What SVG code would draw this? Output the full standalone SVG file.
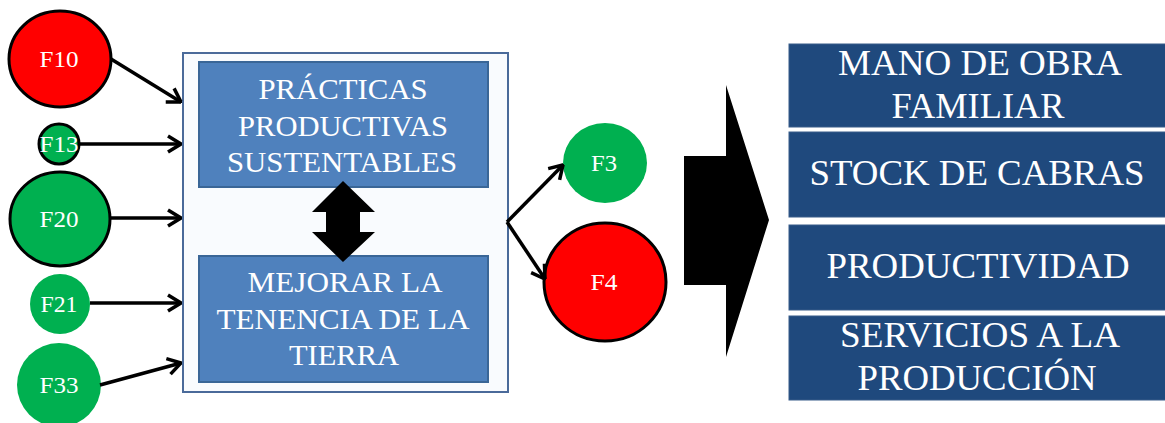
<svg xmlns="http://www.w3.org/2000/svg" width="1165" height="423" viewBox="0 0 1165 423">
<style>
.lbl{font-family:"Liberation Serif","Times New Roman",serif;fill:#fff;text-anchor:middle}
.sm{font-size:23px}
.mid{font-size:30px}
.big{font-size:35px}
.red{fill:#FF0000;stroke:#000;stroke-width:3}
.grn{fill:#00B050}
.grnS{fill:#00B050;stroke:#000;stroke-width:3}
.conn{stroke:#000;stroke-width:3.5;fill:none;marker-end:url(#ah)}
.inner{fill:#4F81BD;stroke:#3A6697;stroke-width:2}
.out{fill:#1F497D;stroke:#385D8A;stroke-width:1}
</style>
<defs>
<marker id="ah" viewBox="0 0 16 20" refX="15" refY="10" markerWidth="16" markerHeight="20" markerUnits="userSpaceOnUse" orient="auto">
<path d="M2,2 L15,10 L2,18" fill="none" stroke="#000" stroke-width="3.5"/>
</marker>
</defs>
<rect width="1165" height="423" fill="#fff"/>

<g id="main-box">
<rect x="183" y="53" width="325" height="339" fill="#F9FBFE" stroke="#4A6A9A" stroke-width="2"/>
</g>
<g id="practicas">
<rect class="inner" x="199" y="62" width="289" height="125"/>
<text class="lbl mid" x="343" y="99" textLength="169" lengthAdjust="spacingAndGlyphs">PRÁCTICAS</text>
<text class="lbl mid" x="343" y="136" textLength="210" lengthAdjust="spacingAndGlyphs">PRODUCTIVAS</text>
<text class="lbl mid" x="342" y="172" textLength="230" lengthAdjust="spacingAndGlyphs">SUSTENTABLES</text>
</g>
<g id="tenencia">
<rect class="inner" x="199" y="256" width="289" height="126"/>
<text class="lbl mid" x="345" y="292" textLength="195" lengthAdjust="spacingAndGlyphs">MEJORAR  LA</text>
<text class="lbl mid" x="343" y="329" textLength="253" lengthAdjust="spacingAndGlyphs">TENENCIA DE LA</text>
<text class="lbl mid" x="344" y="365" textLength="110" lengthAdjust="spacingAndGlyphs">TIERRA</text>
</g>
<g id="double-arrow">
<polygon points="343,181 375,212 360,212 360,232 375,232 343,262 312,232 326,232 326,212 312,212" fill="#000"/>
</g>

<g id="F10"><ellipse class="red" cx="60" cy="59" rx="51" ry="48"/><text class="lbl sm" x="59" y="67" textLength="39" lengthAdjust="spacingAndGlyphs">F10</text></g>
<g id="F13"><circle class="grnS" cx="59" cy="144" r="20"/><text class="lbl sm" x="59" y="152" textLength="39" lengthAdjust="spacingAndGlyphs">F13</text></g>
<g id="F20"><ellipse class="grnS" cx="60" cy="219" rx="50" ry="47"/><text class="lbl sm" x="59" y="227" textLength="39" lengthAdjust="spacingAndGlyphs">F20</text></g>
<g id="F21"><circle class="grn" cx="60" cy="304" r="30"/><text class="lbl sm" x="59" y="312" textLength="37" lengthAdjust="spacingAndGlyphs">F21</text></g>
<g id="F33"><circle class="grn" cx="59" cy="385" r="42"/><text class="lbl sm" x="59" y="393" textLength="39" lengthAdjust="spacingAndGlyphs">F33</text></g>
<g id="F3"><ellipse class="grn" cx="605" cy="163" rx="42" ry="40"/><text class="lbl sm" x="604" y="171" textLength="26" lengthAdjust="spacingAndGlyphs">F3</text></g>
<g id="F4"><ellipse class="red" cx="605" cy="282" rx="61" ry="59"/><text class="lbl sm" x="604" y="290" textLength="27" lengthAdjust="spacingAndGlyphs">F4</text></g>

<g id="connectors">
<line class="conn" x1="111" y1="59" x2="181" y2="102"/>
<line class="conn" x1="79" y1="144" x2="181" y2="144"/>
<line class="conn" x1="110" y1="218" x2="181" y2="218"/>
<line class="conn" x1="90" y1="303" x2="181" y2="303"/>
<line class="conn" x1="100" y1="385" x2="181" y2="363"/>
<line class="conn" x1="507" y1="222" x2="563" y2="165"/>
<line class="conn" x1="507" y1="222" x2="545" y2="279"/>
</g>

<g id="big-arrow">
<polygon points="684,156 726,156 726,85 769,220 726,357 726,285 684,285" fill="#000"/>
</g>

<g id="mano-de-obra">
<rect class="out" x="789" y="44" width="380" height="83"/>
<text class="lbl big" x="980" y="75" textLength="284" lengthAdjust="spacingAndGlyphs">MANO DE OBRA</text>
<text class="lbl big" x="978" y="118" textLength="173" lengthAdjust="spacingAndGlyphs">FAMILIAR</text>
</g>
<g id="stock">
<rect class="out" x="789" y="132" width="380" height="85"/>
<text class="lbl big" x="977" y="185" textLength="335" lengthAdjust="spacingAndGlyphs">STOCK DE CABRAS</text>
</g>
<g id="productividad">
<rect class="out" x="789" y="225" width="380" height="85"/>
<text class="lbl big" x="978" y="278" textLength="303" lengthAdjust="spacingAndGlyphs">PRODUCTIVIDAD</text>
</g>
<g id="servicios">
<rect class="out" x="789" y="316" width="380" height="84"/>
<text class="lbl big" x="980" y="347" textLength="280" lengthAdjust="spacingAndGlyphs">SERVICIOS A LA</text>
<text class="lbl big" x="977" y="390" textLength="239" lengthAdjust="spacingAndGlyphs">PRODUCCIÓN</text>
</g>
</svg>
